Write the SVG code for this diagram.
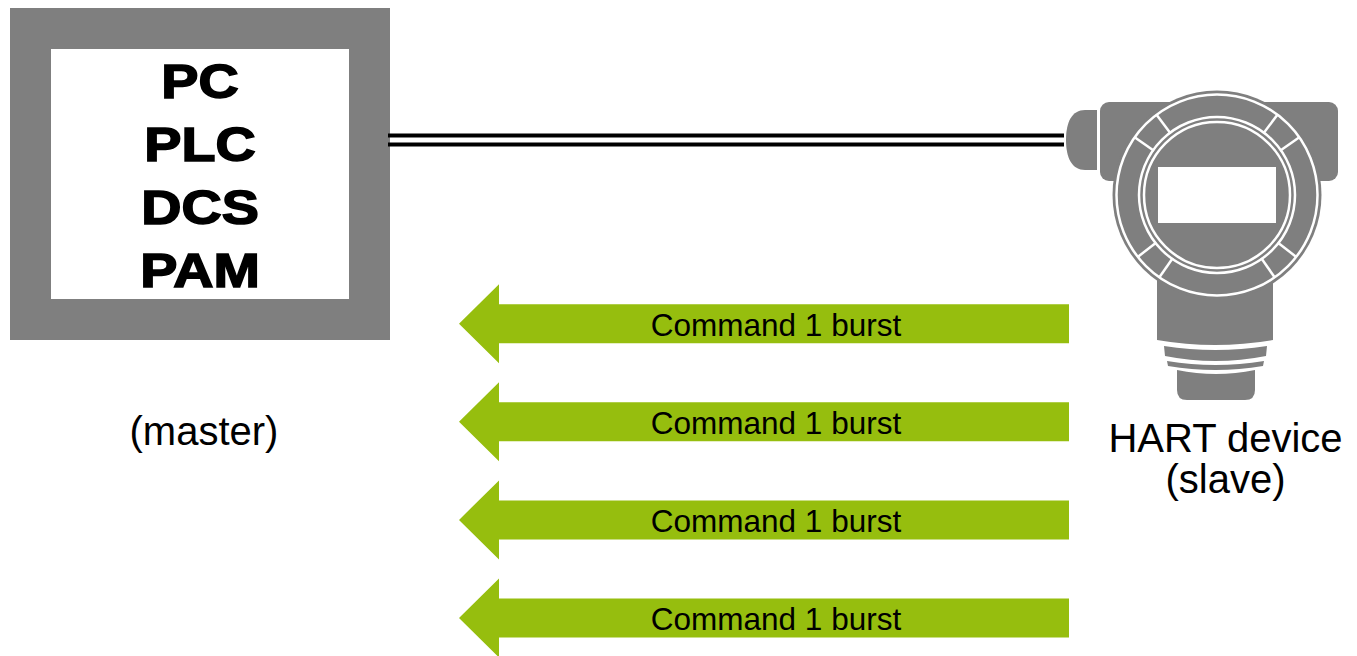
<svg xmlns="http://www.w3.org/2000/svg" width="1357" height="656" viewBox="0 0 1357 656">
  <style>
    .label { font-family: "Liberation Sans", Arial, sans-serif; fill: #000; }
    .host { font-size: 48px; font-weight: bold; stroke: #000; stroke-width: 1.6px; text-anchor: middle; }
    .caption { font-size: 40px; text-anchor: middle; }
    .burst { font-size: 31.5px; text-anchor: middle; }
    .body { fill: #7f7f7f; }
    .cut { stroke: #fff; stroke-width: 2.5; fill: none; }
    .arrow { fill: #96be0e; }
  </style>
  <defs>
    <!-- left-pointing block arrow, centred on y=0, tip at x=0 -->
    <path id="burst-arrow" d="M0,0 L40,-39.5 L40,-19.5 L610,-19.5 L610,19.5 L40,19.5 L40,39.5 Z"/>
  </defs>

  <!-- master station -->
  <g id="master">
    <rect x="10" y="8" width="380" height="332" fill="#7f7f7f"/>
    <rect x="51" y="49" width="298" height="250" fill="#fff"/>
    <g transform="translate(200,0) scale(1.16,1)">
      <text class="label host" x="0" y="98">PC</text>
      <text class="label host" x="0" y="161">PLC</text>
      <text class="label host" x="0" y="224">DCS</text>
      <text class="label host" x="0" y="287">PAM</text>
    </g>
    <text class="label caption" x="204" y="445">(master)</text>
  </g>

  <!-- two-wire loop -->
  <g id="connectors">
    <line x1="388" y1="135.5" x2="1064" y2="135.5" stroke="#000" stroke-width="4"/>
    <line x1="388" y1="144.5" x2="1064" y2="144.5" stroke="#000" stroke-width="4"/>
  </g>

  <!-- field transmitter -->
  <g id="hart-device">
    <path class="body" d="M1097,110 H1085 C1072,110 1066,122 1066,140 C1066,158 1072,170 1085,170 H1097 Z"/>
    <rect class="body" x="1100" y="102" width="238" height="79" rx="9"/>
    <path class="body" d="M1157,280 H1273 V340 Q1215,350 1157,340 Z"/>
    <path class="body" d="M1164,346 Q1215.5,354 1267,346 L1266,356 Q1215.5,366 1165,356 Z"/>
    <path class="body" d="M1167,361 Q1215.5,369 1264,361 L1263,366 Q1215.5,374 1168,366 Z"/>
    <path class="body" d="M1177,370 Q1216,378 1255,370 V390 Q1255,400 1245,400 H1187 Q1177,400 1177,390 Z"/>
    <circle class="body" cx="1217" cy="195" r="104.5"/>
    <circle class="cut" cx="1217" cy="195" r="100.5"/>
    <circle class="cut" cx="1217" cy="195" r="78"/>
    <circle class="cut" cx="1217" cy="195" r="73"/>
    <g transform="translate(1217,195)" class="cut">
      <line x1="77" y1="0" x2="101" y2="0" transform="rotate(-35)"/>
      <line x1="77" y1="0" x2="101" y2="0" transform="rotate(-53)"/>
      <line x1="77" y1="0" x2="101" y2="0" transform="rotate(-127)"/>
      <line x1="77" y1="0" x2="101" y2="0" transform="rotate(-145)"/>
      <line x1="77" y1="0" x2="101" y2="0" transform="rotate(38)"/>
      <line x1="77" y1="0" x2="101" y2="0" transform="rotate(55)"/>
      <line x1="77" y1="0" x2="101" y2="0" transform="rotate(125)"/>
      <line x1="77" y1="0" x2="101" y2="0" transform="rotate(142)"/>
    </g>
    <rect x="1158" y="167" width="118" height="56" fill="#fff"/>
    <text class="label caption" x="1225.5" y="452">HART device</text>
    <text class="label caption" x="1225.5" y="493">(slave)</text>
  </g>

  <!-- burst messages -->
  <g id="burst-1">
    <use href="#burst-arrow" class="arrow" x="459" y="323.7"/>
    <text class="label burst" x="776" y="336">Command 1 burst</text>
  </g>
  <g id="burst-2">
    <use href="#burst-arrow" class="arrow" x="459" y="421.8"/>
    <text class="label burst" x="776" y="434">Command 1 burst</text>
  </g>
  <g id="burst-3">
    <use href="#burst-arrow" class="arrow" x="459" y="519.9"/>
    <text class="label burst" x="776" y="532">Command 1 burst</text>
  </g>
  <g id="burst-4">
    <use href="#burst-arrow" class="arrow" x="459" y="618"/>
    <text class="label burst" x="776" y="630">Command 1 burst</text>
  </g>
</svg>
